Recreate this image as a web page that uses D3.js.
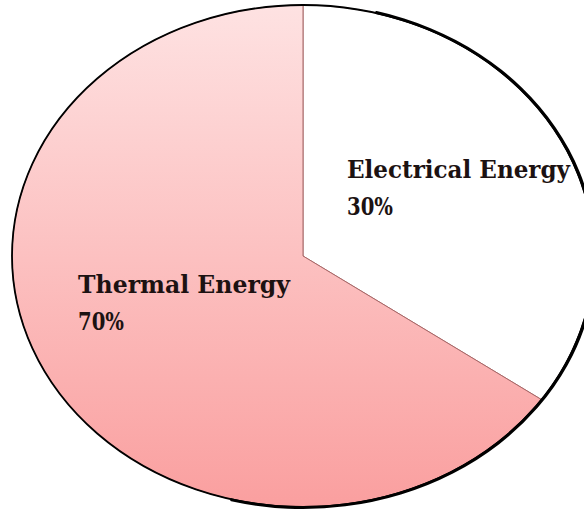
<!DOCTYPE html>
<html>
<head>
<meta charset="utf-8">
<script src="https://cdn.jsdelivr.net/npm/d3@7"></script>
<style>
  html, body { margin: 0; padding: 0; background: #ffffff; }
  #chart { width: 584px; height: 511px; overflow: hidden; }
</style>
</head>
<body>
<div id="chart"></div>
<script>
// Categories and values
const categories = ['Electrical Energy', 'Thermal Energy'];
const percentLabels = ['30%', '70%'];
// slice sizes as drawn (the wedge edge sits at ~125deg from 12 o'clock)
const sliceShares = [34.7, 65.3];
const sliceFills = ['#ffffff', 'url(#thermalGrad)'];

const width = 584, height = 511;
const cx = 303, cy = 256;
const rx = 291, ry = 251;

const svg = d3.select('#chart')
    .append('svg')
    .attr('width', width)
    .attr('height', height);

// Pink vertical gradient
const grad = svg.append('defs')
    .append('linearGradient')
    .attr('id', 'thermalGrad')
    .attr('x1', 0).attr('y1', 0)
    .attr('x2', 0).attr('y2', 1);
grad.append('stop').attr('offset', '0%').attr('stop-color', '#fee2e2');
grad.append('stop').attr('offset', '100%').attr('stop-color', '#fa9f9f');

const pie = d3.pie().sort(null).value(d => d.value);
const arc = d3.arc().innerRadius(0).outerRadius(ry);

const slices = pie(categories.map((c, i) => ({ name: c, value: sliceShares[i] })));

// Circle pie squeezed into an ellipse
const g = svg.append('g')
    .attr('transform', `translate(${cx},${cy}) scale(${rx / ry},1)`);

g.selectAll('.slice')
    .data(slices)
    .enter()
    .append('path')
    .attr('class', 'slice')
    .attr('d', arc)
    .attr('fill', (d, i) => sliceFills[i])
    .attr('stroke', '#a86868')
    .attr('stroke-width', 1)
    .attr('vector-effect', 'non-scaling-stroke');

// Outer border, heavier on the right and bottom
g.append('ellipse')
    .attr('rx', ry).attr('ry', ry)
    .attr('fill', 'none')
    .attr('stroke', '#000')
    .attr('stroke-width', 1.8)
    .attr('vector-effect', 'non-scaling-stroke');

const heavy = d3.arc().innerRadius(ry - 1).outerRadius(ry + 2)
    .startAngle(0.25).endAngle(Math.PI * 1.08)
    .cornerRadius(1);
g.append('path')
    .attr('d', heavy())
    .attr('fill', '#000');

// Labels
const labelPos = [
    { x: 347, y: 178, w: 223 },
    { x: 78, y: 293, w: 212 }
];
const lineGap = 37;

const labels = svg.selectAll('.label')
    .data(categories)
    .enter()
    .append('g')
    .attr('class', 'label')
    .style('font-family', '"DejaVu Serif", "Liberation Serif", serif')
    .style('font-weight', 'bold')
    .style('font-size', '24px')
    .style('fill', '#1c1212');

labels.append('text')
    .attr('x', (d, i) => labelPos[i].x)
    .attr('y', (d, i) => labelPos[i].y)
    .attr('textLength', (d, i) => labelPos[i].w)
    .attr('lengthAdjust', 'spacingAndGlyphs')
    .text(d => d);

labels.append('text')
    .attr('x', (d, i) => labelPos[i].x)
    .attr('y', (d, i) => labelPos[i].y + lineGap)
    .attr('textLength', 46)
    .attr('lengthAdjust', 'spacingAndGlyphs')
    .text((d, i) => percentLabels[i]);
</script>
</body>
</html>
